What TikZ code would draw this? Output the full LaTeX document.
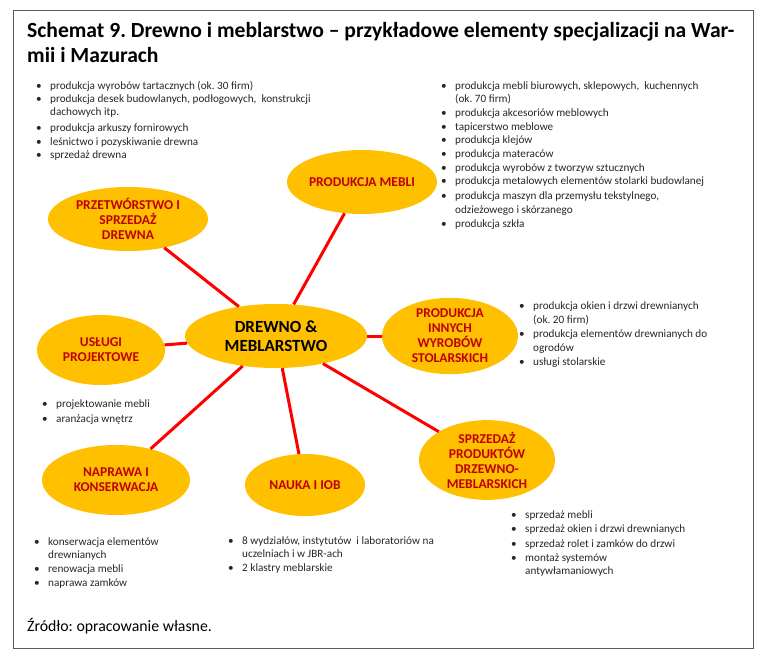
\documentclass[tikz,border=0pt]{standalone}
\usepackage{fontspec}
\setmainfont{Carlito}
\frenchspacing
\usetikzlibrary{shapes.geometric}
\definecolor{gold}{HTML}{FFC000}
\definecolor{dred}{HTML}{C00000}
\definecolor{txt}{HTML}{262626}
\newcommand{\bl}{\makebox[14pt][l]{\textbullet}}
\begin{document}
\begin{tikzpicture}[x=1pt,y=-1pt,
  bubble/.style={ellipse, fill=gold, inner sep=0pt, align=center,
    font=\fontsize{13.5}{15}\selectfont\bfseries, text=dred},
  hub/.style={ellipse, fill=gold, inner sep=0pt, align=center,
    font=\fontsize{17}{19.5}\selectfont\bfseries, text=black},
  link/.style={red, line width=3pt},
  lst/.style={anchor=base west, inner sep=0pt, text=txt},
  frame/.style={draw=gray!70!black, line width=1pt}]
\useasboundingbox (0,0) rectangle (764,657);
\draw[frame] (13,10) rectangle (753,648);

% title
\node[anchor=base west, inner sep=0pt, font=\fontsize{21.6}{25}\selectfont\bfseries] (title) at (27,37)
  {\begin{tabular}[t]{@{}l@{}}Schemat 9. Drewno i meblarstwo -- przykładowe elementy specjalizacji na War-\\mii i Mazurach\end{tabular}};

% ellipses
\node[hub, minimum width=182pt, minimum height=64pt] (c) at (276,336) {DREWNO \&\\MEBLARSTWO};
\node[bubble, minimum width=160pt, minimum height=64pt] (pz) at (128,219) {PRZETWÓRSTWO I\\SPRZEDAŻ\\DREWNA};
\node[bubble, minimum width=150pt, minimum height=64pt] (pm) at (362,182) {PRODUKCJA MEBLI};
\node[bubble, minimum width=128pt, minimum height=70pt] (up) at (101,350) {USŁUGI\\PROJEKTOWE};
\node[bubble, minimum width=136pt, minimum height=74pt] (pi) at (450,336) {PRODUKCJA\\INNYCH\\WYROBÓW\\STOLARSKICH};
\node[bubble, minimum width=136pt, minimum height=74pt] (sp) at (487,460) {SPRZEDAŻ\\PRODUKTÓW\\DRZEWNO-\\MEBLARSKICH};
\node[bubble, minimum width=148pt, minimum height=70pt] (nk) at (116,480) {NAPRAWA I\\KONSERWACJA};
\node[bubble, minimum width=120pt, minimum height=62pt] (ni) at (305,485) {NAUKA I IOB};

% links
\draw[link] (c) -- (pz);
\draw[link] (c) -- (pm);
\draw[link] (c) -- (up);
\draw[link] (c) -- (pi);
\draw[link] (c) -- (sp);
\draw[link] (c) -- (nk);
\draw[link] (c) -- (ni);

% lists
\node[lst, font=\fontsize{11.2}{13.4}\selectfont] (l1) at (36,89) {\begin{tabular}[t]{@{}l@{}l@{}}
\bl & produkcja wyrobów tartacznych (ok. 30 firm)\\
\bl & produkcja desek budowlanych, podłogowych, \ konstrukcji\\
 & dachowych itp.\\[2.5pt]
\bl & produkcja arkuszy fornirowych\\
\bl & leśnictwo i pozyskiwanie drewna\\
\bl & sprzedaż drewna
\end{tabular}};

\node[lst, font=\fontsize{11.2}{13.7}\selectfont] (l2) at (441,89) {\begin{tabular}[t]{@{}l@{}l@{}}
\bl & produkcja mebli biurowych, sklepowych, \ kuchennych\\
 & (ok. 70 firm)\\
\bl & produkcja akcesoriów meblowych\\
\bl & tapicerstwo meblowe\\
\bl & produkcja klejów\\
\bl & produkcja materaców\\
\bl & produkcja wyrobów z tworzyw sztucznych\\
\bl & produkcja metalowych elementów stolarki budowlanej\\[1pt]
\bl & produkcja maszyn dla przemysłu tekstylnego,\\
 & odzieżowego i skórzanego\\
\bl & produkcja szkła
\end{tabular}};

\node[lst, font=\fontsize{11.2}{14}\selectfont] (l3) at (519,309) {\begin{tabular}[t]{@{}l@{}l@{}}
\bl & produkcja okien i drzwi drewnianych\\
 & (ok. 20 firm)\\
\bl & produkcja elementów drewnianych do\\
 & ogrodów\\
\bl & usługi stolarskie
\end{tabular}};

\node[lst, font=\fontsize{11.2}{15}\selectfont] (l4) at (42,407) {\begin{tabular}[t]{@{}l@{}l@{}}
\bl & projektowanie mebli\\
\bl & aranżacja wnętrz
\end{tabular}};

\node[lst, font=\fontsize{11.2}{13.7}\selectfont] (l5) at (34,545) {\begin{tabular}[t]{@{}l@{}l@{}}
\bl & konserwacja elementów\\
 & drewnianych\\
\bl & renowacja mebli\\
\bl & naprawa zamków
\end{tabular}};

\node[lst, font=\fontsize{11.2}{13.5}\selectfont] (l6) at (228,544) {\begin{tabular}[t]{@{}l@{}l@{}}
\bl & 8 wydziałów, instytutów \ i laboratoriów na\\
 & uczelniach i w JBR-ach\\
\bl & 2 klastry meblarskie
\end{tabular}};

\node[lst, font=\fontsize{11.2}{14.5}\selectfont] (l7) at (511,518) {\begin{tabular}[t]{@{}l@{}l@{}}
\bl & sprzedaż mebli\\
\bl & sprzedaż okien i drzwi drewnianych\\
\bl & sprzedaż rolet i zamków do drzwi\\
\bl & montaż systemów\\[-2pt]
 & antywłamaniowych
\end{tabular}};

% source
\node[anchor=base west, inner sep=0pt, font=\fontsize{15.8}{18}\selectfont] (src) at (27,631) {Źródło: opracowanie własne.};
\end{tikzpicture}
\end{document}
